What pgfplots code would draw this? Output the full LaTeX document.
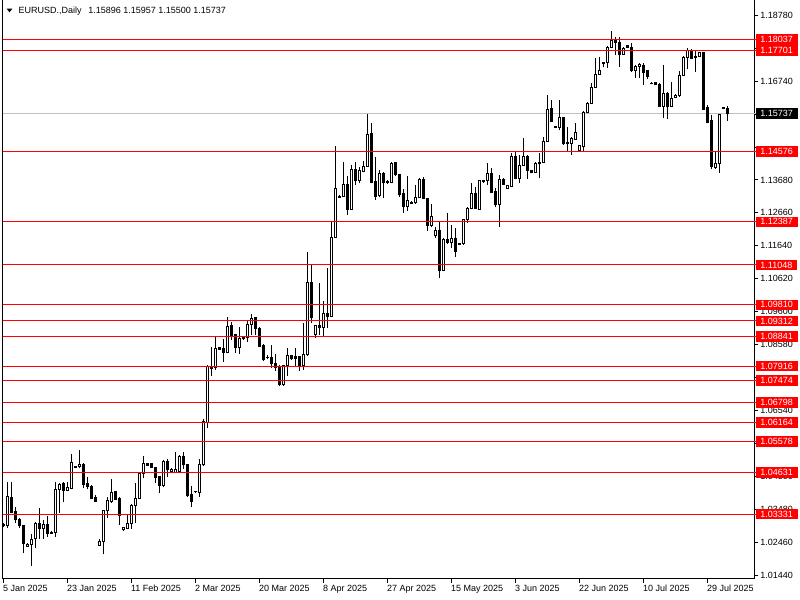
\documentclass[border=0pt]{standalone}
\usepackage{pgfplots}
\pgfplotsset{compat=1.18}
\usepackage{pgfplotstable}
\usepackage{fontspec}
\setmainfont{Liberation Sans}
\definecolor{mtgray}{RGB}{192,192,192}
\definecolor{mtred}{RGB}{255,0,0}
\newcommand{\lblfont}{\fontsize{6.75pt}{8pt}\selectfont}

\pgfplotstableread{
i o h l c
0 1.02995 1.03043 1.02919 1.02985
1 1.02960 1.04333 1.02888 1.03869
2 1.03848 1.04333 1.03352 1.03373
3 1.03404 1.03559 1.03042 1.03166
4 1.03166 1.03197 1.02888 1.02970
5 1.02960 1.02991 1.02113 1.02423
6 1.02340 1.02423 1.02320 1.02402
7 1.02402 1.02712 1.01731 1.02557
8 1.02568 1.03094 1.02289 1.03042
9 1.03042 1.03507 1.02547 1.02888
10 1.02867 1.03146 1.02547 1.02991
11 1.02991 1.03270 1.02629 1.02733
12 1.02764 1.02815 1.02712 1.02743
13 1.02764 1.04333 1.02629 1.04096
14 1.04096 1.04302 1.03373 1.04251
15 1.04271 1.04333 1.03693 1.04075
16 1.04075 1.04333 1.04054 1.04158
17 1.04127 1.05190 1.04096 1.04932
18 1.04808 1.04829 1.04757 1.04777
19 1.04798 1.05314 1.04746 1.04870
20 1.04870 1.04901 1.04127 1.04251
21 1.04261 1.04488 1.04096 1.04178
22 1.04199 1.04230 1.03786 1.03817
23 1.03848 1.03920 1.03693 1.03714
24 1.02351 1.02547 1.02340 1.02495
25 1.02475 1.03456 1.02082 1.03425
26 1.03425 1.03848 1.03218 1.03765
27 1.03714 1.04406 1.03683 1.04003
28 1.04023 1.04054 1.03765 1.03786
29 1.03817 1.03848 1.02991 1.03270
30 1.02836 1.02939 1.02815 1.02908
31 1.02888 1.03332 1.02857 1.03042
32 1.03042 1.03631 1.02857 1.03610
33 1.03610 1.04282 1.03042 1.03817
34 1.03817 1.04612 1.03796 1.04591
35 1.04591 1.05128 1.04437 1.04881
36 1.04881 1.04901 1.04819 1.04839
37 1.04881 1.04901 1.04746 1.04767
38 1.04767 1.04798 1.04282 1.04467
39 1.04488 1.04509 1.03972 1.04209
40 1.04209 1.05004 1.04158 1.04973
41 1.04973 1.05025 1.04488 1.04695
42 1.04643 1.04746 1.04591 1.04715
43 1.04622 1.05263 1.04591 1.04695
44 1.04643 1.05159 1.04591 1.05128
45 1.05128 1.05263 1.04715 1.04850
46 1.04850 1.04881 1.03869 1.03890
47 1.03951 1.04199 1.03558 1.03713
48 1.04015 1.04040 1.03995 1.04030
49 1.03991 1.05026 1.03868 1.04871
50 1.04850 1.06265 1.04819 1.06191
51 1.06160 1.07948 1.05987 1.07895
52 1.07895 1.08516 1.07607 1.07840
53 1.07876 1.08825 1.07793 1.08464
54 1.08485 1.08516 1.08412 1.08433
55 1.08464 1.08753 1.08051 1.08330
56 1.08330 1.09445 1.08309 1.09135
57 1.09156 1.09290 1.08722 1.08846
58 1.08877 1.08898 1.08330 1.08485
59 1.08485 1.09115 1.08289 1.08753
60 1.08805 1.08825 1.08722 1.08753
61 1.08805 1.09342 1.08671 1.09208
62 1.09208 1.09528 1.08877 1.09393
63 1.09414 1.09445 1.08877 1.09063
64 1.09084 1.09115 1.08516 1.08536
65 1.08567 1.08598 1.08082 1.08123
66 1.08185 1.08258 1.08123 1.08175
67 1.08185 1.08567 1.07844 1.07999
68 1.07999 1.08289 1.07772 1.07876
69 1.07896 1.07948 1.07308 1.07349
70 1.07349 1.07948 1.07308 1.07927
71 1.07927 1.08464 1.07607 1.08227
72 1.08227 1.08258 1.08103 1.08134
73 1.08206 1.08464 1.07896 1.08154
74 1.08206 1.08227 1.07772 1.07917
75 1.07917 1.09259 1.07793 1.08258
76 1.08258 1.11459 1.08227 1.10509
77 1.10498 1.11077 1.09239 1.09424
78 1.08877 1.09187 1.08774 1.09156
79 1.09156 1.10498 1.08877 1.09105
80 1.09115 1.09930 1.08826 1.09548
81 1.09548 1.10942 1.09084 1.09445
82 1.09445 1.12388 1.09424 1.11903
83 1.11903 1.14742 1.11880 1.13421
84 1.13170 1.13200 1.13120 1.13150
85 1.13162 1.14247 1.13142 1.13524
86 1.13524 1.13803 1.12595 1.12780
87 1.12780 1.14143 1.12760 1.13989
88 1.13989 1.14247 1.13524 1.13648
89 1.13648 1.14092 1.13575 1.13958
90 1.13937 1.14267 1.13916 1.14112
91 1.14112 1.15723 1.14092 1.15073
92 1.15104 1.15455 1.13575 1.13606
93 1.13627 1.14381 1.13059 1.13162
94 1.13193 1.13989 1.13142 1.13865
95 1.13885 1.13937 1.13111 1.13596
96 1.13615 1.13680 1.13560 1.13640
97 1.13596 1.14247 1.13575 1.14195
98 1.14216 1.14247 1.13803 1.13834
99 1.13834 1.13850 1.13162 1.13214
100 1.13266 1.13390 1.12646 1.12853
101 1.12853 1.13803 1.12729 1.13059
102 1.12990 1.13030 1.12930 1.12965
103 1.12977 1.13524 1.12935 1.13142
104 1.13142 1.13730 1.13111 1.13699
105 1.13699 1.13761 1.13080 1.13111
106 1.13111 1.13132 1.12109 1.12264
107 1.12264 1.12935 1.12212 1.12543
108 1.11954 1.12212 1.11892 1.12099
109 1.12099 1.12419 1.10633 1.10870
110 1.10870 1.11872 1.10850 1.11841
111 1.11841 1.12646 1.11696 1.11737
112 1.11737 1.12285 1.11562 1.11872
113 1.11872 1.12181 1.11304 1.11459
114 1.11700 1.11740 1.11660 1.11690
115 1.11696 1.12461 1.11665 1.12440
116 1.12440 1.12853 1.12357 1.12801
117 1.12801 1.13575 1.12770 1.13266
118 1.13266 1.13452 1.12770 1.12801
119 1.12780 1.13679 1.12770 1.13648
120 1.13658 1.13680 1.13600 1.13617
121 1.13658 1.14216 1.13524 1.13865
122 1.13865 1.14040 1.13266 1.13286
123 1.13317 1.13420 1.12832 1.12925
124 1.12925 1.13833 1.12212 1.13679
125 1.13699 1.13730 1.13524 1.13544
126 1.13420 1.13524 1.13400 1.13503
127 1.13472 1.14525 1.13451 1.14401
128 1.14401 1.14556 1.13699 1.13730
129 1.13730 1.14453 1.13575 1.14143
130 1.14143 1.14969 1.14122 1.14401
131 1.14401 1.14453 1.13699 1.13968
132 1.13958 1.13980 1.13890 1.13906
133 1.13906 1.14246 1.13885 1.14195
134 1.14185 1.14505 1.13730 1.14210
135 1.14215 1.15021 1.14195 1.14866
136 1.14866 1.16312 1.14845 1.15868
137 1.15899 1.16157 1.15470 1.15486
138 1.15340 1.15360 1.15300 1.15320
139 1.15310 1.16157 1.15227 1.15620
140 1.15620 1.15640 1.14763 1.14794
141 1.14835 1.15310 1.14556 1.14794
142 1.14814 1.15021 1.14453 1.14969
143 1.14938 1.15434 1.14918 1.15145
144 1.14587 1.14763 1.14556 1.14732
145 1.14711 1.15826 1.14536 1.15775
146 1.15775 1.16105 1.15744 1.16053
147 1.16053 1.16694 1.16033 1.16549
148 1.16549 1.17448 1.16518 1.16962
149 1.16962 1.17478 1.16931 1.17086
150 1.17300 1.17344 1.17169 1.17320
151 1.17313 1.17830 1.17138 1.17788
152 1.17788 1.18305 1.17757 1.17995
153 1.18015 1.18119 1.17551 1.17933
154 1.17933 1.18098 1.17189 1.17571
155 1.17571 1.17809 1.17551 1.17757
156 1.17830 1.17850 1.17770 1.17788
157 1.17788 1.17912 1.17034 1.17065
158 1.17065 1.17241 1.16828 1.17210
159 1.17189 1.17313 1.16828 1.17272
160 1.17241 1.17293 1.16621 1.17004
161 1.17065 1.17086 1.16797 1.16880
162 1.16680 1.16700 1.16640 1.16665
163 1.16694 1.16725 1.16621 1.16652
164 1.16652 1.16673 1.15930 1.15971
165 1.15971 1.17241 1.15609 1.16343
166 1.16343 1.16415 1.15558 1.15950
167 1.15950 1.16725 1.15930 1.16208
168 1.16239 1.16332 1.16208 1.16301
169 1.16281 1.17065 1.16260 1.16931
170 1.16931 1.17520 1.16900 1.17478
171 1.17478 1.17757 1.17107 1.17685
172 1.17685 1.17727 1.17417 1.17448
173 1.17520 1.17675 1.17035 1.17479
174 1.17500 1.17654 1.17479 1.17623
175 1.17623 1.17654 1.15847 1.15868
176 1.15930 1.16002 1.15434 1.15455
177 1.15517 1.15693 1.14009 1.14092
178 1.14071 1.14588 1.14009 1.14175
179 1.14175 1.15710 1.13906 1.15693
180 1.15930 1.15940 1.15880 1.15900
181 1.15896 1.15957 1.15500 1.15737
}\candles

\tikzset{rlab/.style={fill=mtred, draw=mtred, line width=0.5pt, text=white, font=\lblfont, anchor=west,
  inner xsep=3pt, inner ysep=0pt, minimum height=7.2pt, xshift=1.6pt}}

\begin{document}
\begin{tikzpicture}
\useasboundingbox (0,0) rectangle (600pt,450pt);
\begin{axis}[
  name=ax,
  at={(1.5pt,15.75pt)}, anchor=south west,
  scale only axis, width=564pt, height=434.25pt,
  xmin=-0.325, xmax=187.675, ymin=1.01318, ymax=1.19255,
  clip=false,
  axis x line*=bottom, axis y line*=right,
  axis line style={black, line width=0.75pt},
  tick align=outside, major tick length=3pt,
  tick style={black, line width=0.75pt},
  xtick={0,16,32,48,64,80,96,112,128,144,160,176},
  xticklabels={5 Jan 2025,23 Jan 2025,11 Feb 2025,2 Mar 2025,20 Mar 2025,8 Apr 2025,27 Apr 2025,15 May 2025,3 Jun 2025,22 Jun 2025,10 Jul 2025,29 Jul 2025},
  xticklabel style={font=\lblfont, anchor=north west, inner sep=0pt, xshift=-0.4pt, yshift=-1.5pt},
  ytick={1.0144,1.0246,1.0348,1.045,1.0552,1.0654,1.0756,1.0858,1.096,1.1062,1.1164,1.1266,1.1368,1.147,1.1572,1.1674,1.1776,1.1878},
  yticklabels={1.01440,1.02460,1.03480,1.04500,1.05520,1.06540,,1.08580,1.09600,1.10620,1.11640,1.12660,1.13680,,,1.16740,,1.18780},
  yticklabel style={font=\lblfont, anchor=west, inner sep=0pt, xshift=1.5pt},
]
% current price line
\addplot[mtgray, line width=0.75pt, forget plot] coordinates {(-0.325,1.15737) (188.3,1.15737)};
% wicks: low to high
\addplot[draw=none, mark=none, forget plot,
  error bars/.cd, y dir=plus, y explicit, error mark=none,
  error bar style={draw=black, line width=0.75pt}]
  table[x=i, y=l, y error plus expr={\thisrow{h}-\thisrow{l}}] {\candles};
% bodies: black 3px bars from open to close
\addplot[draw=none, mark=none, forget plot,
  error bars/.cd, y dir=plus, y explicit, error mark=none,
  error bar style={draw=black, line width=2.25pt}]
  table[x=i, y expr={min(\thisrow{o},\thisrow{c})-0.000155},
        y error plus expr={abs(\thisrow{c}-\thisrow{o})+0.00031}] {\candles};
% hollow interior of bullish bodies
\addplot[draw=none, mark=none, forget plot, unbounded coords=discard,
  error bars/.cd, y dir=plus, y explicit, error mark=none,
  error bar style={draw=white, line width=0.75pt}]
  table[x=i, y expr={\thisrow{c}-\thisrow{o}>0.00035 ? \thisrow{o}+0.000155 : nan},
        y error plus expr={\thisrow{c}-\thisrow{o}-0.00031}] {\candles};
\pgfplotsinvokeforeach{1.18037,1.17701,1.14576,1.12387,1.11048,1.09810,1.09312,1.08841,1.07916,1.07474,1.06798,1.06164,1.05578,1.04631,1.03331}{
  \addplot[mtred, line width=0.75pt, forget plot] coordinates {(-0.325,#1) (188.3,#1)};
}
\coordinate (R1) at (axis cs:187.675,1.18037);
\coordinate (R2) at (axis cs:187.675,1.17701);
\coordinate (R3) at (axis cs:187.675,1.14576);
\coordinate (R4) at (axis cs:187.675,1.12387);
\coordinate (R5) at (axis cs:187.675,1.11048);
\coordinate (R6) at (axis cs:187.675,1.09810);
\coordinate (R7) at (axis cs:187.675,1.09312);
\coordinate (R8) at (axis cs:187.675,1.08841);
\coordinate (R9) at (axis cs:187.675,1.07916);
\coordinate (R10) at (axis cs:187.675,1.07474);
\coordinate (R11) at (axis cs:187.675,1.06798);
\coordinate (R12) at (axis cs:187.675,1.06164);
\coordinate (R13) at (axis cs:187.675,1.05578);
\coordinate (R14) at (axis cs:187.675,1.04631);
\coordinate (R15) at (axis cs:187.675,1.03331);
\coordinate (RB) at (axis cs:187.675,1.15737);
\end{axis}
\draw[black, line width=0.75pt] (ax.south west) -- (ax.north west);
\node[rlab] at (R1) {1.18037};
\node[rlab] at (R2) {1.17701};
\node[rlab] at (R3) {1.14576};
\node[rlab] at (R4) {1.12387};
\node[rlab] at (R5) {1.11048};
\node[rlab] at (R6) {1.09810};
\node[rlab] at (R7) {1.09312};
\node[rlab] at (R8) {1.08841};
\node[rlab] at (R9) {1.07916};
\node[rlab] at (R10) {1.07474};
\node[rlab] at (R11) {1.06798};
\node[rlab] at (R12) {1.06164};
\node[rlab] at (R13) {1.05578};
\node[rlab] at (R14) {1.04631};
\node[rlab] at (R15) {1.03331};
\node[rlab, fill=black, draw=black] at (RB) {1.15737};
\fill (5pt,443.5pt) -- (9.3pt,443.5pt) -- (7.15pt,440.75pt) -- cycle;
\node[anchor=base west, inner sep=0pt, font=\lblfont] at (13.75pt,439.5pt) {EURUSD.,Daily\hspace{5pt}1.15896 1.15957 1.15500 1.15737};
\end{tikzpicture}
\end{document}
